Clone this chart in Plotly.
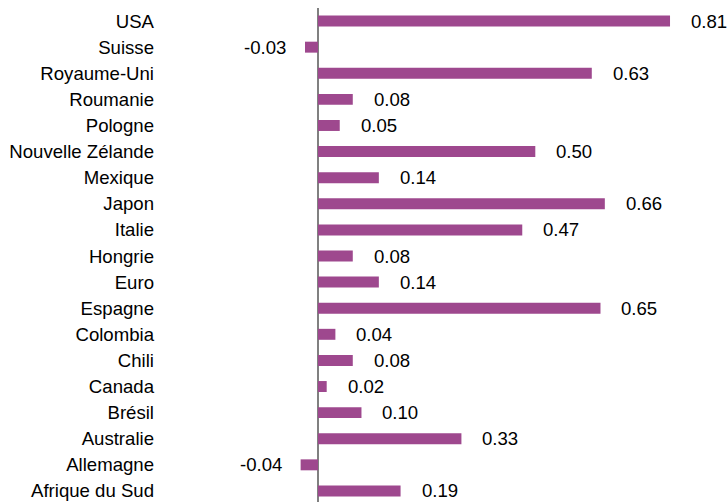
import plotly.graph_objects as go

categories = ["Afrique du Sud", "Allemagne", "Australie", "Brésil", "Canada", "Chili",
              "Colombia", "Espagne", "Euro", "Hongrie", "Italie", "Japon", "Mexique",
              "Nouvelle Zélande", "Pologne", "Roumanie", "Royaume-Uni", "Suisse", "USA"]
values = [0.19, -0.04, 0.33, 0.10, 0.02, 0.08,
          0.04, 0.65, 0.14, 0.08, 0.47, 0.66, 0.14,
          0.50, 0.05, 0.08, 0.63, -0.03, 0.81]

BAR_COLOR = "#9E488E"
FONT = "Liberation Sans, Arial, sans-serif"
FS = 18.6

fig = go.Figure(go.Bar(
    x=values, y=categories, orientation="h",
    marker=dict(color=BAR_COLOR, line=dict(width=0)),
    hoverinfo="skip",
))

annotations = []
for c, v in zip(categories, values):
    pos = v >= 0
    annotations.append(dict(
        x=v, y=c, xref="x", yref="y", text=f"{v:.2f}", showarrow=False,
        xanchor="left" if pos else "right", xshift=19 if pos else -17,
        font=dict(family=FONT, size=FS, color="#000000"),
    ))

fig.update_layout(
    width=728, height=504,
    margin=dict(l=160, r=20, t=8, b=0),
    paper_bgcolor="white", plot_bgcolor="white",
    bargap=0.58,
    showlegend=False,
    font=dict(family=FONT, size=FS, color="#000000"),
    annotations=annotations,
    xaxis=dict(range=[-0.3636, 0.8974], showgrid=False, showticklabels=False,
               ticks="", showline=False, zeroline=True, zerolinecolor="#808080",
               zerolinewidth=1.5, fixedrange=True, automargin=False),
    yaxis=dict(showgrid=False, showline=False, ticks="", zeroline=False,
               ticklabelstandoff=5, tickfont=dict(family=FONT, size=FS, color="#000000"),
               fixedrange=True, automargin=False),
)

fig.write_html(
    "out.html",
    config={"displayModeBar": False},
    post_script="document.body.style.margin='0';document.body.style.overflow='hidden';"
                "document.documentElement.style.overflow='hidden';",
)
